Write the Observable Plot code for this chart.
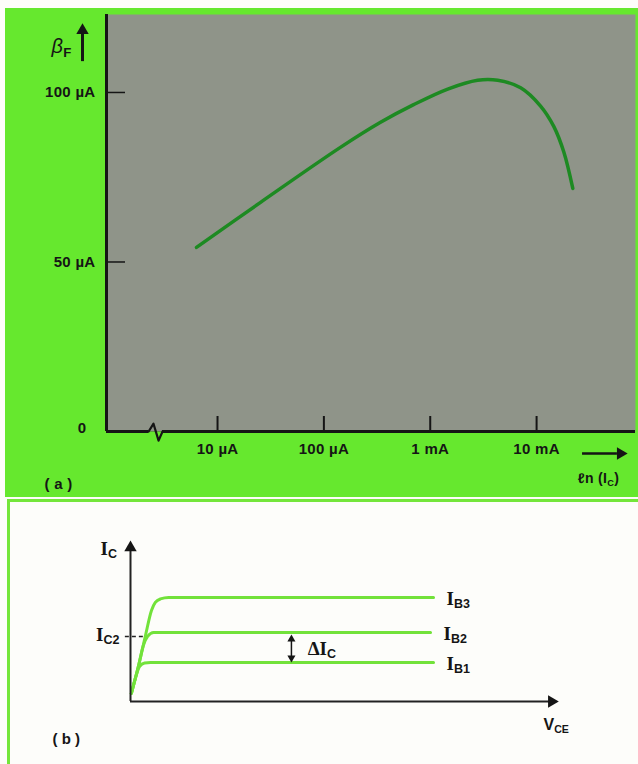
<!DOCTYPE html>
<html><head><meta charset="utf-8">
<script src="https://cdn.jsdelivr.net/npm/d3@7"></script>
<script src="https://cdn.jsdelivr.net/npm/@observablehq/plot@0.6"></script>
<style>
html,body{margin:0;padding:0;background:#fff;}
#page{position:relative;width:638px;height:764px;overflow:hidden;background:#fdfdfa;}
#a{position:absolute;left:5px;top:8px;width:633px;height:489px;background:#66e82e;}
#b{position:absolute;left:7px;top:499px;width:631px;height:265px;border-left:3px solid #74e63a;border-top:3px solid #74e63a;box-sizing:border-box;}
svg{display:block;}
</style></head><body><div id="page"><div id="a"></div><div id="b"></div></div>
<script>
// ---------- Panel (a): beta_F versus ln(I_C) ----------
const betaCurrent = [6.34e-6, 2.54e-5, 1.43e-4, 3.41e-4, 6.98e-4, 1.46e-3, 2.79e-3, 4.31e-3, 7.08e-3, 1.09e-2, 1.45e-2, 1.80e-2, 2.19e-2];
const betaValue   = [54.3, 67.6, 83.8, 91.2, 96.4, 101.0, 103.6, 103.6, 101.4, 96.0, 90.0, 82.5, 71.7];
const xTickValues = [1e-5, 1e-4, 1e-3, 1e-2];
const xTickLabels = ["10 µA", "100 µA", "1 mA", "10 mA"];
const yTickValues = [50, 100];
const yTickLabels = ["50 µA", "100 µA"];
const xDomainA = [10 ** -6.044, 10 ** -1.07];
const yDomainA = [0, 123];
const breakMarkX = [2.25e-6, 2.5e-6, 2.79e-6, 3.04e-6];
const breakMarkY = [0, 2.3, -2.7, 0];

// ---------- Panel (b): I_C versus V_CE ----------
const vceIB3 = [0.02, 0.19, 0.35, 0.49, 0.58, 0.70, 0.89, 7.08];
const icIB3  = [0.50, 2.24, 4.10, 5.65, 6.15, 6.37, 6.46, 6.46];
const vceIB2 = [0.02, 0.19, 0.30, 0.40, 0.54, 7.01];
const icIB2  = [0.50, 2.24, 3.48, 4.04, 4.29, 4.29];
const vceIB1 = [0.02, 0.12, 0.21, 0.33, 0.47, 7.08];
const icIB1  = [0.50, 1.49, 2.17, 2.39, 2.42, 2.42];
const seriesNames = ["I_{B3}", "I_{B2}", "I_{B1}"];
const ic2Level = 4.04;
const deltaVce = 3.76;

const SANS = "'Liberation Sans', Arial, Helvetica, sans-serif";
const SERIF = "'Liberation Serif', 'Times New Roman', serif";

function subscripts(svg) {
  d3.select(svg).selectAll("text").each(function () {
    const t = this;
    const s = t.textContent;
    if (!s.includes("_{")) return;
    const fs = parseFloat(getComputedStyle(t).fontSize) || 14;
    while (t.firstChild) t.removeChild(t.firstChild);
    let down = false;
    for (const p of s.split(/(_\{[^}]*\})/)) {
      if (!p) continue;
      const ts = document.createElementNS("http://www.w3.org/2000/svg", "tspan");
      if (p.startsWith("_{")) {
        ts.textContent = p.slice(2, -1);
        ts.setAttribute("font-size", (fs * 0.66).toFixed(1) + "px");
        ts.setAttribute("font-family", SANS);
        ts.setAttribute("font-weight", "bold");
        ts.setAttribute("font-style", "normal");
        ts.setAttribute("dy", (fs * 0.2).toFixed(1));
        down = true;
      } else {
        ts.textContent = p;
        if (down) { ts.setAttribute("dy", (-fs * 0.2).toFixed(1)); down = false; }
      }
      t.appendChild(ts);
    }
  });
  return svg;
}

const rowsA = betaCurrent.map((c, i) => ({current: c, beta: betaValue[i]}));
const breakRows = breakMarkX.map((x, i) => ({x, y: breakMarkY[i]}));
const INK = "#151515";
const GRAY = "#8f9489";

const plotA = Plot.plot({
  width: 633, height: 489,
  marginLeft: 101, marginRight: 3, marginTop: 6, marginBottom: 66,
  x: {type: "log", domain: xDomainA, axis: null},
  y: {domain: yDomainA, axis: null},
  style: {fontFamily: SANS, fontWeight: "bold", fontSize: "15px", letterSpacing: "0.3px", background: "transparent", color: INK},
  marks: [
    Plot.frame({fill: GRAY, stroke: null}),
    Plot.line(rowsA, {x: "current", y: "beta", curve: "catmull-rom", stroke: "#1d8a22", strokeWidth: 3.5}),
    Plot.tickX(xTickValues, {x: d => d, insetTop: 402, stroke: INK, strokeWidth: 2}),
    Plot.tickY(yTickValues, {y: d => d, insetRight: 510, stroke: INK, strokeWidth: 1.5}),
    Plot.ruleX([xDomainA[0]], {stroke: INK, strokeWidth: 3}),
    Plot.ruleY([0], {stroke: INK, strokeWidth: 3}),
    Plot.ruleY([0], {x1: breakMarkX[0], x2: breakMarkX[3], stroke: GRAY, strokeWidth: 1.6, dy: -0.8}),
    Plot.ruleY([0], {x1: breakMarkX[0], x2: breakMarkX[3], stroke: "#66e82e", strokeWidth: 1.6, dy: 0.8}),
    Plot.line(breakRows, {x: "x", y: "y", stroke: INK, strokeWidth: 2.2, curve: "linear"}),
    Plot.text(xTickValues, {x: d => d, y: 0, text: (d, i) => xTickLabels[i], dy: 18, fontSize: 15}),
    Plot.text(yTickValues, {x: xDomainA[0], y: d => d, text: (d, i) => yTickLabels[i], textAnchor: "end", dx: -11, fontSize: 15}),
    Plot.text(["0"], {x: xDomainA[0], y: 0, text: d => d, textAnchor: "end", dx: -20, dy: -3, fontSize: 15}),
    Plot.text(["β_{F}"], {x: xDomainA[0], y: 113.6, text: d => d, textAnchor: "start", dx: -55, fontSize: 20, fontStyle: "italic", fontWeight: "normal", fontFamily: SANS}),
    Plot.ruleX([xDomainA[0]], {y1: 109.1, y2: 117.5, dx: -24, stroke: INK, strokeWidth: 3}),
    Plot.dot([0], {x: xDomainA[0], y: 118.3, dx: -24, symbol: "triangle", r: 4.6, fill: INK, stroke: null}),
    Plot.ruleY([-6.5], {x1: 10 ** -1.568, x2: 10 ** -1.24, stroke: INK, strokeWidth: 2.5}),
    Plot.dot([0], {x: 10 ** -1.211, y: -6.5, symbol: "triangle", rotate: 90, r: 4.6, fill: INK, stroke: null}),
    Plot.text(["ℓn (I_{C})"], {x: 10 ** -1.418, y: -13.9, text: d => d, fontSize: 14}),
    Plot.text(["( a )"], {frameAnchor: "bottom-left", text: d => d, dx: -62, dy: 57, fontSize: 15})
  ]
});
document.getElementById("a").appendChild(plotA);
subscripts(plotA);

const rowsB = [
  ...vceIB3.map((v, i) => ({vce: v, ic: icIB3[i], series: seriesNames[0]})),
  ...vceIB2.map((v, i) => ({vce: v, ic: icIB2[i], series: seriesNames[1]})),
  ...vceIB1.map((v, i) => ({vce: v, ic: icIB1[i], series: seriesNames[2]}))
];
const endsB = [
  {vce: vceIB3.at(-1), ic: icIB3.at(-1), label: seriesNames[0]},
  {vce: vceIB2.at(-1), ic: icIB2.at(-1), label: seriesNames[1]},
  {vce: vceIB1.at(-1), ic: icIB1.at(-1), label: seriesNames[2]}
];

const plotB = Plot.plot({
  width: 628, height: 262,
  marginLeft: 120, marginRight: 80, marginTop: 38, marginBottom: 63,
  x: {domain: [0, 10], axis: null},
  y: {domain: [0, 10], axis: null},
  style: {fontFamily: SERIF, fontWeight: "bold", fontSize: "19px", background: "transparent", color: INK},
  marks: [
    Plot.line(rowsB, {x: "vce", y: "ic", z: "series", curve: "monotone-x", stroke: "#72e23a", strokeWidth: 3}),
    Plot.ruleX([0], {y1: 0, y2: 9.5, stroke: "#222", strokeWidth: 2}),
    Plot.ruleY([0], {x1: 0, x2: 9.8, stroke: "#222", strokeWidth: 2}),
    Plot.dot([0], {x: 0, y: 9.55, symbol: "triangle", r: 4.6, fill: INK, stroke: null}),
    Plot.dot([0], {x: 9.84, y: 0, symbol: "triangle", rotate: 90, r: 4.6, fill: INK, stroke: null}),
    Plot.ruleY([ic2Level], {x1: -0.12, x2: 0.3, stroke: "#222", strokeWidth: 1.5, strokeDasharray: "4,3"}),
    Plot.ruleX([deltaVce], {y1: 2.75, y2: 3.85, stroke: INK, strokeWidth: 1.5}),
    Plot.dot([0], {x: deltaVce, y: 3.87, symbol: "triangle", r: 3, fill: INK, stroke: null}),
    Plot.dot([0], {x: deltaVce, y: 2.71, symbol: "triangle", rotate: 180, r: 3, fill: INK, stroke: null}),
    Plot.text(endsB, {x: "vce", y: "ic", text: "label", textAnchor: "start", dx: 13, dy: 1}),
    Plot.text(["ΔI_{C}"], {x: 4.14, y: 3.17, text: d => d, textAnchor: "start", dy: -2}),
    Plot.text(["I_{C}"], {x: 0, y: 10, text: d => d, textAnchor: "start", dx: -30, dy: 8}),
    Plot.text(["I_{C2}"], {x: 0, y: ic2Level, text: d => d, textAnchor: "end", dx: -11, dy: -2}),
    Plot.text(["V_{CE}"], {x: 10, y: 0, text: d => d, textAnchor: "start", dx: -15, dy: 23, fontFamily: SANS, fontWeight: "bold", fontSize: 16}),
    Plot.text(["( b )"], {frameAnchor: "bottom-left", text: d => d, dx: -78, dy: 42, fontFamily: SANS, fontWeight: "bold", fontSize: 15})
  ]
});
document.getElementById("b").appendChild(plotB);
subscripts(plotB);
</script></body></html>
